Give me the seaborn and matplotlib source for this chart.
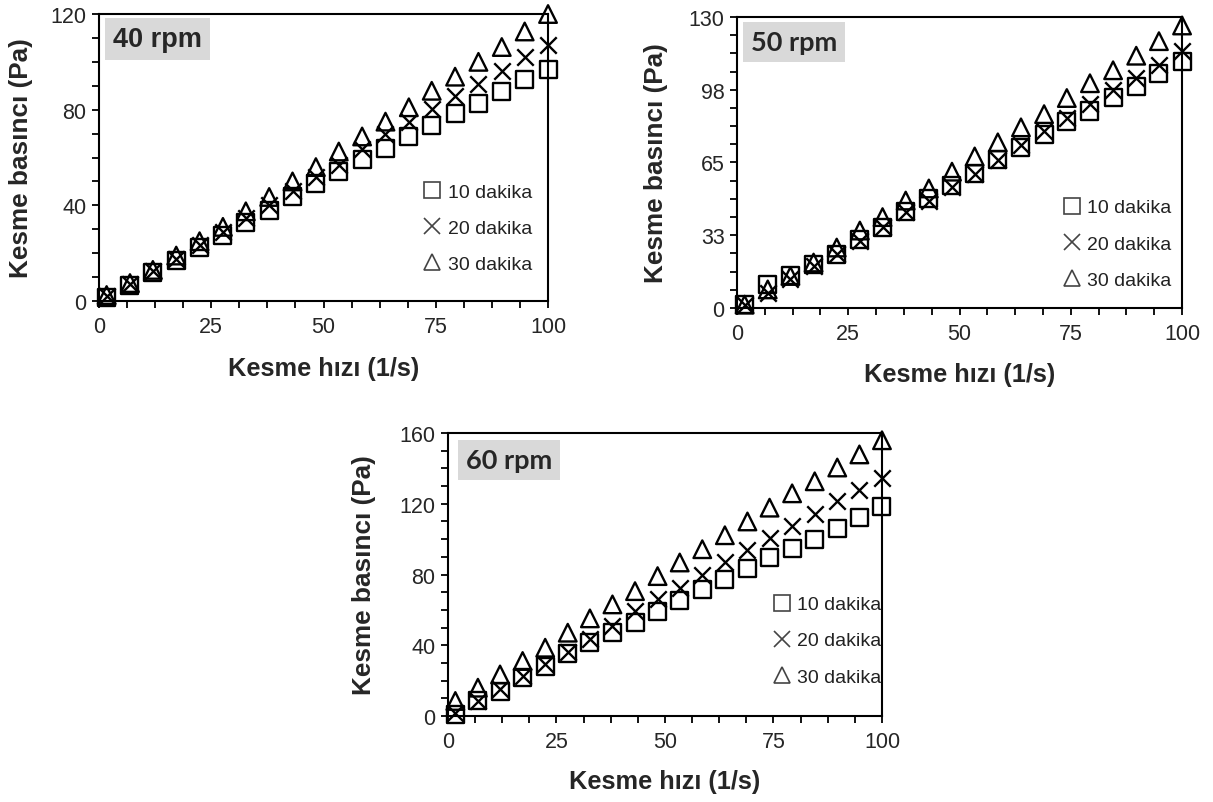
import matplotlib
matplotlib.use('Agg')
import matplotlib.pyplot as plt
import seaborn as sns
from matplotlib.ticker import MultipleLocator, FixedLocator
from matplotlib.lines import Line2D

# data
shear_rate = [1.7, 6.9, 12.0, 17.2, 22.4, 27.6, 32.7, 37.9, 43.1, 48.3,
              53.4, 58.6, 63.8, 69.0, 74.1, 79.3, 84.5, 89.7, 94.8, 100.0]
series_labels = ['10 dakika', '20 dakika', '30 dakika']

rpm40_10 = [1.5, 6.5, 12, 17, 22.5, 27.5, 33, 38, 43.5, 49, 54, 59, 63.6, 68.6, 73.2, 78.2, 82.6, 87.5, 92.7, 97]
rpm40_20 = [2, 7, 12.5, 17.5, 23.5, 29, 34.5, 40, 46, 52, 57, 63.5, 69.9, 74.9, 80.3, 85.8, 90.8, 96.3, 102, 107]
rpm40_30 = [2.5, 7.5, 13, 19, 25, 31, 37.5, 43.5, 50, 56, 62.5, 68.8, 75, 81, 87.9, 93.8, 100, 106.2, 112.7, 120]

rpm50_10 = [1.5, 10.5, 14.3, 19.5, 24, 30.8, 36, 42.9, 48.9, 54.9, 60.2, 66.2, 71.6, 77.6, 83.3, 88, 93.9, 99, 104.6, 109.9]
rpm50_20 = [1.5, 6.8, 12.8, 18.8, 24, 30, 36, 43, 48, 54, 60, 66, 72.7, 79, 85, 91.2, 97.3, 102.6, 108.5, 114.7]
rpm50_30 = [1.5, 8.3, 14.3, 20.3, 27, 34.6, 40.6, 48, 53.4, 60.9, 67.7, 74, 80.7, 86.6, 93.8, 100.4, 106.2, 112.7, 119.2, 126.2]

rpm60_10 = [0.9, 8.5, 14.1, 21.7, 28.2, 35.2, 41.4, 47, 52.7, 59.3, 65.5, 71.5, 77.3, 83.3, 89.5, 94.8, 100, 105.9, 112, 118.2]
rpm60_20 = [1.9, 8.5, 15, 22.6, 29.6, 36.3, 43.3, 50.8, 59.3, 65.9, 72.5, 80, 87.3, 93.7, 100.8, 107.4, 114.3, 121.3, 127.9, 134.6]
rpm60_30 = [8.5, 16, 23.5, 31.1, 38.6, 47.1, 55.2, 63.1, 70.6, 79.1, 86.8, 94.3, 102.2, 110, 117.8, 125.9, 132.7, 140.5, 147.9, 155.9]

sns.set_style('white')
plt.rcParams['font.family'] = ['Liberation Sans', 'DejaVu Sans']

fig = plt.figure(figsize=(12.13, 8.03), dpi=100)

panels = [
    dict(rect=[0.0816, 0.6239, 0.3702, 0.3574], ys=[rpm40_10, rpm40_20, rpm40_30],
         ymax=120, yticks=[0, 40, 80, 120], ylabels=['0', '40', '80', '120'], yminor=10,
         title='40 rpm', tfont='Liberation Sans', tpos=(0.131, 0.913),
         leg=(0.72, 0.41), ylab_x=-0.147, xlab_y=-0.192),
    dict(rect=[0.6076, 0.6152, 0.3669, 0.3624], ys=[rpm50_10, rpm50_20, rpm50_30],
         ymax=130, yticks=[0, 32.5, 65, 97.5, 130], ylabels=['0', '33', '65', '98', '130'], yminor=8.125,
         title='50 rpm', tfont='Lato', tpos=(0.128, 0.914),
         leg=(0.73, 0.375), ylab_x=-0.155, xlab_y=-0.186),
    dict(rect=[0.3693, 0.1071, 0.3578, 0.3524], ys=[rpm60_10, rpm60_20, rpm60_30],
         ymax=160, yticks=[0, 40, 80, 120, 160], ylabels=['0', '40', '80', '120', '160'], yminor=10,
         title='60 rpm', tfont='Lato', tpos=(0.141, 0.905),
         leg=(0.747, 0.425), ylab_x=-0.166, xlab_y=-0.187),
]

for p in panels:
    ax = fig.add_axes(p['rect'])
    y10, y20, y30 = p['ys']
    sns.scatterplot(x=shear_rate, y=y10, marker='s', s=150, facecolor='none',
                    edgecolor='black', linewidth=1.7, ax=ax, clip_on=False, zorder=3)
    sns.scatterplot(x=shear_rate, y=y20, marker='x', s=140, color='black',
                    linewidth=1.7, ax=ax, clip_on=False, zorder=3)
    sns.scatterplot(x=shear_rate, y=y30, marker='^', s=160, facecolor='none',
                    edgecolor='black', linewidth=1.7, ax=ax, clip_on=False, zorder=3)

    ax.set_xlim(0, 100)
    ax.set_ylim(0, p['ymax'])
    ax.xaxis.set_major_locator(FixedLocator([0, 25, 50, 75, 100]))
    ax.xaxis.set_minor_locator(MultipleLocator(6.25))
    ax.yaxis.set_major_locator(FixedLocator(p['yticks']))
    ax.set_yticklabels(p['ylabels'])
    ax.yaxis.set_minor_locator(MultipleLocator(p['yminor']))
    ax.tick_params(which='both', direction='out', length=5, width=1.3, color='black',
                   bottom=True, left=True, labelsize=15.5)
    ax.tick_params(axis='x', pad=6)
    ax.tick_params(axis='y', pad=4)
    for sp in ax.spines.values():
        sp.set_color('black')
        sp.set_linewidth(1.5)

    ax.set_xlabel('Kesme hızı (1/s)', fontsize=18.3, fontweight='bold')
    ax.set_ylabel('Kesme basıncı (Pa)', fontsize=18.8, fontweight='bold')
    ax.yaxis.set_label_coords(p['ylab_x'], 0.5)
    ax.xaxis.set_label_coords(0.5, p['xlab_y'])

    ax.text(p['tpos'][0], p['tpos'][1], p['title'], transform=ax.transAxes,
            ha='center', va='center', fontsize=19.5, fontweight='bold', family=p['tfont'],
            bbox=dict(boxstyle='square,pad=0.3', facecolor='#d9d9d9', edgecolor='none'))

    handles = [
        Line2D([], [], marker='s', linestyle='none', markersize=11, markerfacecolor='none',
               markeredgecolor='#444444', markeredgewidth=1.2),
        Line2D([], [], marker='x', linestyle='none', markersize=11, color='#444444',
               markeredgewidth=1.2),
        Line2D([], [], marker='^', linestyle='none', markersize=11, markerfacecolor='none',
               markeredgecolor='#444444', markeredgewidth=1.2),
    ]
    ax.legend(handles, series_labels, loc='upper left', bbox_to_anchor=p['leg'],
              frameon=False, fontsize=14, labelspacing=0.95, handletextpad=0.3,
              handlelength=1.0, borderaxespad=0, borderpad=0, labelcolor='#222222')

fig.savefig('out.png', dpi=100)
